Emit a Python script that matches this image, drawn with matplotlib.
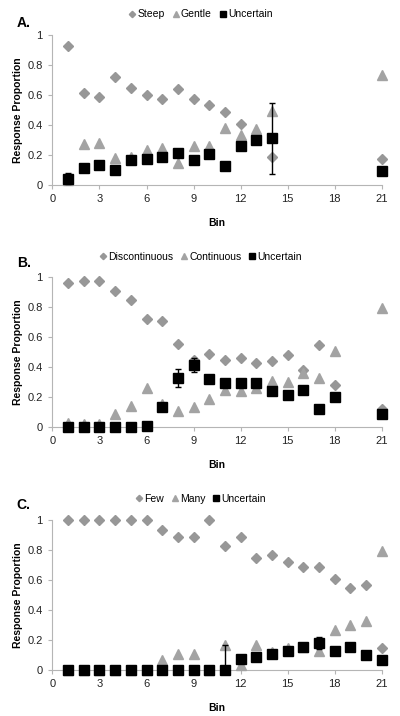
import numpy as np
import matplotlib.pyplot as plt
from matplotlib import rcParams

rcParams["font.family"] = ["Liberation Sans", "DejaVu Sans"]

# ---- panel A: Steep / Gentle ----
bins_a = [1, 2, 3, 4, 5, 6, 7, 8, 9, 10, 11, 12, 13, 14, 21]
steep = [0.929, 0.611, 0.589, 0.72, 0.647, 0.60, 0.571, 0.642, 0.571, 0.536, 0.489, 0.407, 0.327, 0.189, 0.173]
gentle = [0.033, 0.271, 0.278, 0.182, 0.186, 0.233, 0.247, 0.144, 0.26, 0.26, 0.382, 0.333, 0.373, 0.493, 0.736]
unc_a = [0.038, 0.116, 0.133, 0.10, 0.167, 0.171, 0.184, 0.211, 0.167, 0.204, 0.129, 0.262, 0.30, 0.311, 0.093]
err_a = [0.044, 0, 0, 0, 0, 0, 0, 0, 0, 0, 0, 0, 0, 0.235, 0]

# ---- panel B: Discontinuous / Continuous ----
bins_b = [1, 2, 3, 4, 5, 6, 7, 8, 9, 10, 11, 12, 13, 14, 15, 16, 17, 18, 21]
discont = [0.965, 0.975, 0.975, 0.91, 0.85, 0.72, 0.71, 0.555, 0.45, 0.49, 0.45, 0.46, 0.43, 0.44, 0.48, 0.385, 0.55, 0.28, 0.12]
cont = [0.03, 0.025, 0.025, 0.09, 0.145, 0.265, 0.155, 0.11, 0.135, 0.19, 0.25, 0.24, 0.265, 0.31, 0.305, 0.36, 0.33, 0.51, 0.795]
unc_b = [0.005, 0.0, 0.0, 0.0, 0.0, 0.01, 0.135, 0.33, 0.415, 0.32, 0.295, 0.295, 0.295, 0.245, 0.215, 0.25, 0.12, 0.205, 0.09]
err_b = [0, 0, 0, 0, 0, 0, 0, 0.06, 0.045, 0, 0, 0, 0, 0, 0, 0, 0, 0, 0]

# ---- panel C: Few / Many ----
bins_c = list(range(1, 22))
few = [1.0, 1.0, 1.0, 1.0, 1.0, 1.0, 0.935, 0.89, 0.89, 1.0, 0.825, 0.89, 0.745, 0.77, 0.72, 0.69, 0.69, 0.605, 0.545, 0.57, 0.145]
many = [0.0, 0.0, 0.0, 0.0, 0.0, 0.0, 0.065, 0.11, 0.11, 0.0, 0.17, 0.035, 0.17, 0.12, 0.15, 0.155, 0.125, 0.265, 0.30, 0.33, 0.795]
unc_c = [0, 0, 0, 0, 0, 0, 0, 0, 0, 0, 0, 0.075, 0.085, 0.11, 0.13, 0.155, 0.18, 0.13, 0.155, 0.10, 0.065]
err_c = [0, 0, 0, 0, 0, 0, 0, 0, 0, 0, 0.17, 0, 0, 0, 0, 0, 0.04, 0, 0, 0, 0]

panels = [
    ("A.", bins_a, steep, gentle, unc_a, err_a, ["Steep", "Gentle", "Uncertain"]),
    ("B.", bins_b, discont, cont, unc_b, err_b, ["Discontinuous", "Continuous", "Uncertain"]),
    ("C.", bins_c, few, many, unc_c, err_c, ["Few", "Many", "Uncertain"]),
]

xticks = [0, 3, 6, 9, 12, 15, 18, 21]
yticks = [0, 0.2, 0.4, 0.6, 0.8, 1.0]
ytick_labels = ["0", "0.2", "0.4", "0.6", "0.8", "1"]

# axes bottoms in figure fraction, from pixel positions
bottoms = [0.7416, 0.4032, 0.0642]
legend_y = [0.980, 0.641, 0.303]
label_y = [0.968, 0.633, 0.295]

fig = plt.figure(figsize=(4.0, 7.16), dpi=100)

for (tag, bins, s1, s2, unc, err, names), b, ly, ty in zip(panels, bottoms, legend_y, label_y):
    ax = fig.add_axes([0.131, b, 0.8235, 0.2095])
    h1, = ax.plot(bins, s1, "D", color="#979797", markersize=4.6, clip_on=False, zorder=3)
    h2, = ax.plot(bins, s2, "^", color="#a3a3a3", markersize=6.5, clip_on=False, zorder=3)
    ax.errorbar(bins, unc, yerr=err, fmt="none", ecolor="black", elinewidth=1,
                capsize=2, capthick=1, zorder=4)
    h3, = ax.plot(bins, unc, "s", color="black", markersize=6.5, clip_on=False, zorder=5)

    ax.set_xlim(0, 21)
    ax.set_ylim(0, 1)
    ax.set_xticks(xticks)
    ax.set_yticks(yticks)
    ax.set_yticklabels(ytick_labels)
    for side in ["top", "right"]:
        ax.spines[side].set_visible(False)
    for side in ["left", "bottom"]:
        ax.spines[side].set_color("#b5b5b5")
        ax.spines[side].set_linewidth(0.8)
    ax.tick_params(axis="both", colors="#b5b5b5", labelcolor="#222222",
                   labelsize=8, length=3, width=0.8, direction="out")
    ax.tick_params(axis="y", pad=4)
    ax.set_ylabel("Response Proportion", fontsize=7.5, fontweight="bold", labelpad=3)
    ax.set_xlabel("Bin", fontsize=7.5, fontweight="bold", labelpad=10)

    fig.legend([h1, h2, h3], names, loc="center", bbox_to_anchor=(0.5, ly),
               ncol=3, frameon=False, fontsize=7.5, handletextpad=0.05,
               columnspacing=0.6, handlelength=0.9, borderpad=0, markerscale=0.7)
    fig.text(0.042, ty, tag, fontsize=10, fontweight="bold", va="center")

fig.savefig("out.png", dpi=100)
